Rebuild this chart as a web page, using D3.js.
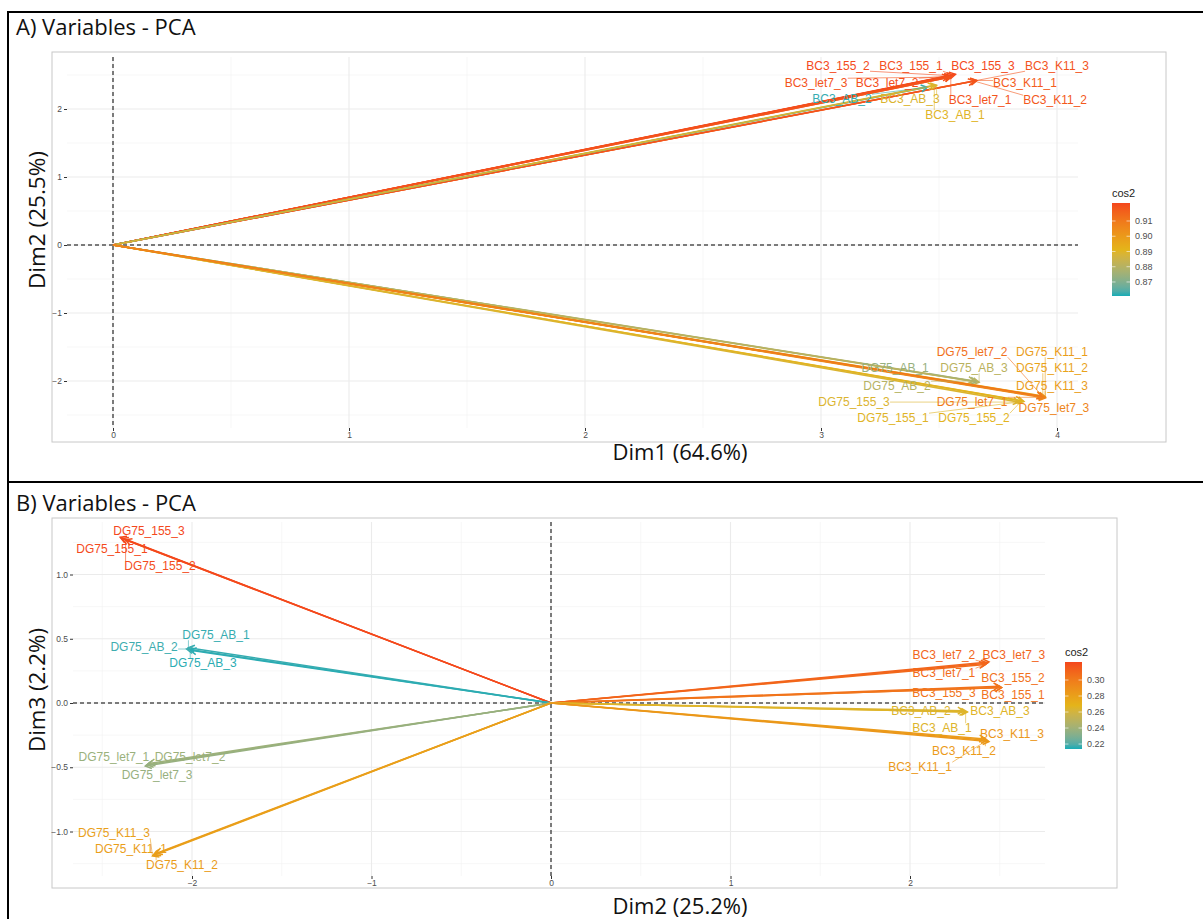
<!DOCTYPE html>
<html><head><meta charset="utf-8">
<script src="https://cdn.jsdelivr.net/npm/d3@7"></script>
<style>body{margin:0;background:#fff}</style>
</head><body><svg id="c" width="1203" height="919"></svg>
<script>
// ---------- Panel A: Dim1 vs Dim2 ----------
const namesA = ["BC3_155_1","BC3_155_2","BC3_155_3","BC3_let7_1","BC3_let7_2","BC3_let7_3","BC3_K11_1","BC3_K11_2","BC3_K11_3","BC3_AB_1","BC3_AB_2","BC3_AB_3",
  "DG75_155_1","DG75_155_2","DG75_155_3","DG75_AB_1","DG75_AB_2","DG75_AB_3","DG75_K11_1","DG75_K11_2","DG75_K11_3","DG75_let7_1","DG75_let7_2","DG75_let7_3"];
const dim1A = [3.56,3.55,3.57,3.55,3.54,3.55,3.66,3.65,3.66,3.48,3.45,3.49, 3.86,3.85,3.84,3.66,3.65,3.67,3.95,3.94,3.95,3.95,3.94,3.95];
const dim2A = [2.50,2.49,2.51,2.47,2.48,2.47,2.42,2.41,2.42,2.35,2.32,2.35, -2.30,-2.29,-2.31,-2.01,-2.00,-2.02,-2.23,-2.22,-2.24,-2.24,-2.23,-2.25];
const cos2A = [0.920,0.921,0.921,0.919,0.920,0.919,0.917,0.918,0.919,0.890,0.862,0.889, 0.890,0.891,0.889,0.874,0.880,0.881,0.899,0.897,0.899,0.909,0.912,0.906];
const labXA = [3.381,3.072,3.686,3.674,3.280,2.979,3.864,3.992,4.000,3.568,3.089,3.377, 3.305,3.648,3.140,3.314,3.322,3.648,3.979,3.979,3.979,3.640,3.640,3.987];
const labYA = [2.632,2.632,2.632,2.132,2.382,2.382,2.382,2.132,2.632,1.912,2.147,2.147, -2.544,-2.544,-2.309,-1.809,-2.074,-1.809,-1.574,-1.809,-2.074,-2.309,-1.574,-2.397];
const xTicksA = [0,1,2,3,4];
const yTicksA = [-2,-1,0,1,2];
const legTicksA = [0.87,0.88,0.89,0.90,0.91];
const legRangeA = [0.8608,0.9218];

// ---------- Panel B: Dim2 vs Dim3 ----------
const namesB = ["DG75_155_1","DG75_155_2","DG75_155_3","DG75_AB_1","DG75_AB_2","DG75_AB_3","DG75_let7_1","DG75_let7_2","DG75_let7_3","DG75_K11_1","DG75_K11_2","DG75_K11_3",
  "BC3_let7_1","BC3_let7_2","BC3_let7_3","BC3_155_1","BC3_155_2","BC3_155_3","BC3_AB_1","BC3_AB_2","BC3_AB_3","BC3_K11_1","BC3_K11_2","BC3_K11_3"];
const dim2B = [-2.39,-2.37,-2.40,-2.02,-2.03,-2.01,-2.25,-2.24,-2.26,-2.21,-2.20,-2.22, 2.42,2.43,2.44,2.51,2.50,2.51,2.31,2.30,2.32,2.43,2.42,2.44];
const dim3B = [1.28,1.27,1.29,0.43,0.42,0.41,-0.48,-0.47,-0.49,-1.18,-1.17,-1.19, 0.30,0.31,0.32,0.12,0.13,0.12,-0.07,-0.06,-0.07,-0.29,-0.28,-0.30];
const cos2B = [0.321,0.320,0.322,0.216,0.217,0.215,0.238,0.239,0.237,0.281,0.282,0.280, 0.308,0.310,0.311,0.304,0.305,0.303,0.265,0.264,0.266,0.284,0.283,0.285];
const labXB = [-2.446,-2.178,-2.240,-1.866,-2.267,-1.939,-2.435,-2.011,-2.195,-2.340,-2.056,-2.435, 2.189,2.189,2.579,2.574,2.574,2.189,2.178,2.061,2.501,2.056,2.301,2.568];
const labYB = [1.198,1.066,1.339,0.529,0.436,0.311,-0.420,-0.420,-0.560,-1.136,-1.261,-1.012, 0.233,0.374,0.374,0.062,0.195,0.078,-0.195,-0.062,-0.062,-0.498,-0.374,-0.241];
const xTicksB = [-2,-1,0,1,2];
const yTicksB = [-1.0,-0.5,0.0,0.5,1.0];
const legTicksB = [0.22,0.24,0.26,0.28,0.30];
const legRangeB = [0.2138,0.3225];

const gradCols = ["#17ACB6","#E4B41A","#F4461C"];

const svg = d3.select("#c");
const F = "'Liberation Sans', Arial, sans-serif";
const TF = "'Open Sans', sans-serif";

svg.append("rect").attr("x",8).attr("y",12).attr("width",1200).attr("height",920)
  .attr("fill","none").attr("stroke","#000").attr("stroke-width",2);
svg.append("line").attr("x1",8).attr("x2",1203).attr("y1",482).attr("y2",482).attr("stroke","#000").attr("stroke-width",2);

function panel(cfg){
  const g = svg.append("g");
  g.append("rect").attr("x",cfg.frame[0]).attr("y",cfg.frame[1]).attr("width",cfg.frame[2]-cfg.frame[0]).attr("height",cfg.frame[3]-cfg.frame[1])
    .attr("fill","#fff").attr("stroke","#c8c8c8").attr("stroke-width",1);
  const x = d3.scaleLinear().domain(cfg.xdom).range(cfg.xr);
  const y = d3.scaleLinear().domain(cfg.ydom).range(cfg.yr);
  const [x0,x1] = cfg.xr, [y0,y1] = cfg.yr;
  const minorX = d3.range(Math.ceil(cfg.xdom[0]*2)/2, cfg.xdom[1], 0.5).filter(v=>!cfg.xTicks.includes(v));
  const minorY = d3.range(Math.ceil(cfg.ydom[0]*cfg.ym)/cfg.ym, cfg.ydom[1], 1/cfg.ym).filter(v=>!cfg.yTicks.some(t=>Math.abs(t-v)<1e-6));
  g.selectAll(null).data(minorX).join("line").attr("x1",d=>x(d)).attr("x2",d=>x(d)).attr("y1",y1).attr("y2",y0).attr("stroke","#f2f2f2").attr("stroke-width",0.6);
  g.selectAll(null).data(minorY).join("line").attr("y1",d=>y(d)).attr("y2",d=>y(d)).attr("x1",x0).attr("x2",x1).attr("stroke","#f2f2f2").attr("stroke-width",0.6);
  g.selectAll(null).data(cfg.xTicks).join("line").attr("x1",d=>x(d)).attr("x2",d=>x(d)).attr("y1",y1).attr("y2",y0).attr("stroke","#ebebeb").attr("stroke-width",1.1);
  g.selectAll(null).data(cfg.yTicks).join("line").attr("y1",d=>y(d)).attr("y2",d=>y(d)).attr("x1",x0).attr("x2",x1).attr("stroke","#ebebeb").attr("stroke-width",1.1);
  const ax = d3.axisBottom(x).tickValues(cfg.xTicks).tickSize(3).tickPadding(1).tickFormat(cfg.xfmt);
  const ay = d3.axisLeft(y).tickValues(cfg.yTicks).tickSize(3).tickPadding(2).tickFormat(cfg.yfmt);
  const gx = g.append("g").attr("transform",`translate(0,${y0})`).call(ax);
  const gy = g.append("g").attr("transform",`translate(${x0},0)`).call(ay);
  [gx,gy].forEach(a=>{a.select(".domain").remove(); a.selectAll("line").attr("stroke","#333"); a.selectAll("text").attr("fill","#4d4d4d").attr("font-size",8.5).attr("font-family",F);});
  g.append("line").attr("x1",x(0)).attr("x2",x(0)).attr("y1",y1).attr("y2",y0).attr("stroke","#000").attr("stroke-dasharray","4,3").attr("stroke-width",1);
  g.append("line").attr("y1",y(0)).attr("y2",y(0)).attr("x1",x0).attr("x2",x1).attr("stroke","#000").attr("stroke-dasharray","4,3").attr("stroke-width",1);
  const [lo,hi] = cfg.legRange;
  const col = d3.scaleLinear().domain([lo,(lo+hi)/2,hi]).range(gradCols).interpolate(d3.interpolateLab);
  const data = cfg.names.map((n,i)=>({n, px:cfg.xs[i], py:cfg.ys[i], c:cfg.cos[i], lx:cfg.lx[i], ly:cfg.ly[i]}));
  const lg = g.append("g");
  const texts = lg.selectAll(null).data(data).join("text").attr("x",d=>x(d.lx)).attr("y",d=>y(d.ly)).attr("dy","0.35em")
    .attr("text-anchor","middle").attr("font-family",F).attr("font-size",12).attr("fill",d=>col(d.c)).text(d=>d.n);
  const sg = g.insert("g", () => lg.node());
  texts.each(function(d){
    const b = this.getBBox();
    const X = x(d.px), Y = y(d.py);
    const cx = Math.max(b.x, Math.min(X, b.x+b.width));
    const cy = Math.max(b.y+2, Math.min(Y, b.y+b.height-2));
    const dist = Math.hypot(X-cx, Y-cy);
    if (dist > 6) sg.append("line").attr("x1",cx).attr("y1",cy).attr("x2",X).attr("y2",Y).attr("stroke",col(d.c)).attr("stroke-width",0.6);
  });
  const ag = g.insert("g", () => sg.node());
  data.forEach(d=>{
    const X = x(d.px), Y = y(d.py), X0 = x(0), Y0 = y(0);
    const ang = Math.atan2(Y-Y0, X-X0);
    const L = 7, a = Math.PI/6;
    ag.append("line").attr("x1",X0).attr("y1",Y0).attr("x2",X).attr("y2",Y).attr("stroke",col(d.c)).attr("stroke-width",1.5);
    ag.append("path").attr("d",`M${X-L*Math.cos(ang-a)},${Y-L*Math.sin(ang-a)}L${X},${Y}L${X-L*Math.cos(ang+a)},${Y-L*Math.sin(ang+a)}`)
      .attr("fill","none").attr("stroke",col(d.c)).attr("stroke-width",1.5);
  });
  const L = cfg.leg;
  const ly = d3.scaleLinear().domain([lo,hi]).range([L.y1, L.y0]);
  const gid = "grad"+cfg.id;
  const grad = svg.append("defs").append("linearGradient").attr("id",gid).attr("x1",0).attr("x2",0).attr("y1",1).attr("y2",0);
  d3.range(0,1.0001,0.05).forEach(t=>grad.append("stop").attr("offset",t).attr("stop-color",col(lo+(hi-lo)*t)));
  g.append("rect").attr("x",L.x).attr("y",L.y0).attr("width",L.w).attr("height",L.y1-L.y0).attr("fill",`url(#${gid})`);
  g.selectAll(null).data(cfg.legTicks).join("line").attr("x1",L.x).attr("x2",L.x+3.5).attr("y1",d=>ly(d)).attr("y2",d=>ly(d)).attr("stroke","#fff").attr("stroke-width",0.6);
  g.selectAll(null).data(cfg.legTicks).join("line").attr("x1",L.x+L.w-3.5).attr("x2",L.x+L.w).attr("y1",d=>ly(d)).attr("y2",d=>ly(d)).attr("stroke","#fff").attr("stroke-width",0.6);
  g.selectAll(null).data(cfg.legTicks).join("text").attr("x",L.x+L.w+5).attr("y",d=>ly(d)).attr("dy","0.35em").attr("font-family",F).attr("font-size",9).attr("fill","#4d4d4d").text(d=>d.toFixed(2));
  g.append("text").attr("x",L.x).attr("y",L.y0-6).attr("font-family",F).attr("font-size",11).attr("fill","#222").text("cos2");
  svg.append("text").attr("x",16).attr("y",cfg.titleY).attr("font-family",TF).attr("font-size",22).attr("fill","#111").text(cfg.title);
  svg.append("text").attr("x",680).attr("y",cfg.xtY).attr("text-anchor","middle").attr("font-family",TF).attr("font-size",21)
    .attr("textLength",135).attr("lengthAdjust","spacingAndGlyphs").attr("fill","#111").text(cfg.xt);
  svg.append("text").attr("transform",`translate(45,${cfg.ytC}) rotate(-90)`).attr("text-anchor","middle").attr("font-family",TF).attr("font-size",21)
    .attr("textLength",cfg.ytLen).attr("lengthAdjust","spacingAndGlyphs").attr("fill","#111").text(cfg.yt);
}

const fmt0 = d3.format("d"), fmt1 = d3.format(".1f");
panel({id:"A", frame:[52,52,1166,442], xr:[67,1078], yr:[428,57],
  xdom:[(67-113)/236,(1078-113)/236], ydom:[(245-428)/68,(245-57)/68], ym:2,
  xTicks:xTicksA, yTicks:yTicksA, xfmt:fmt0, yfmt:fmt0,
  names:namesA, xs:dim1A, ys:dim2A, cos:cos2A, lx:labXA, ly:labYA,
  legRange:legRangeA, legTicks:legTicksA, leg:{x:1112,w:18,y0:203,y1:296},
  title:"A) Variables - PCA", titleY:35, xt:"Dim1 (64.6%)", xtY:460, yt:"Dim2 (25.5%)", ytC:220, ytLen:138});
panel({id:"B", frame:[52,518,1117,888], xr:[73,1045], yr:[876,522],
  xdom:[(73-551)/179.5,(1045-551)/179.5], ydom:[(703-876)/128.5,(703-522)/128.5], ym:4,
  xTicks:xTicksB, yTicks:yTicksB, xfmt:fmt0, yfmt:fmt1,
  names:namesB, xs:dim2B, ys:dim3B, cos:cos2B, lx:labXB, ly:labYB,
  legRange:legRangeB, legTicks:legTicksB, leg:{x:1065,w:17,y0:662,y1:749},
  title:"B) Variables - PCA", titleY:511, xt:"Dim2 (25.2%)", xtY:914, yt:"Dim3 (2.2%)", ytC:690, ytLen:124});
</script></body></html>
